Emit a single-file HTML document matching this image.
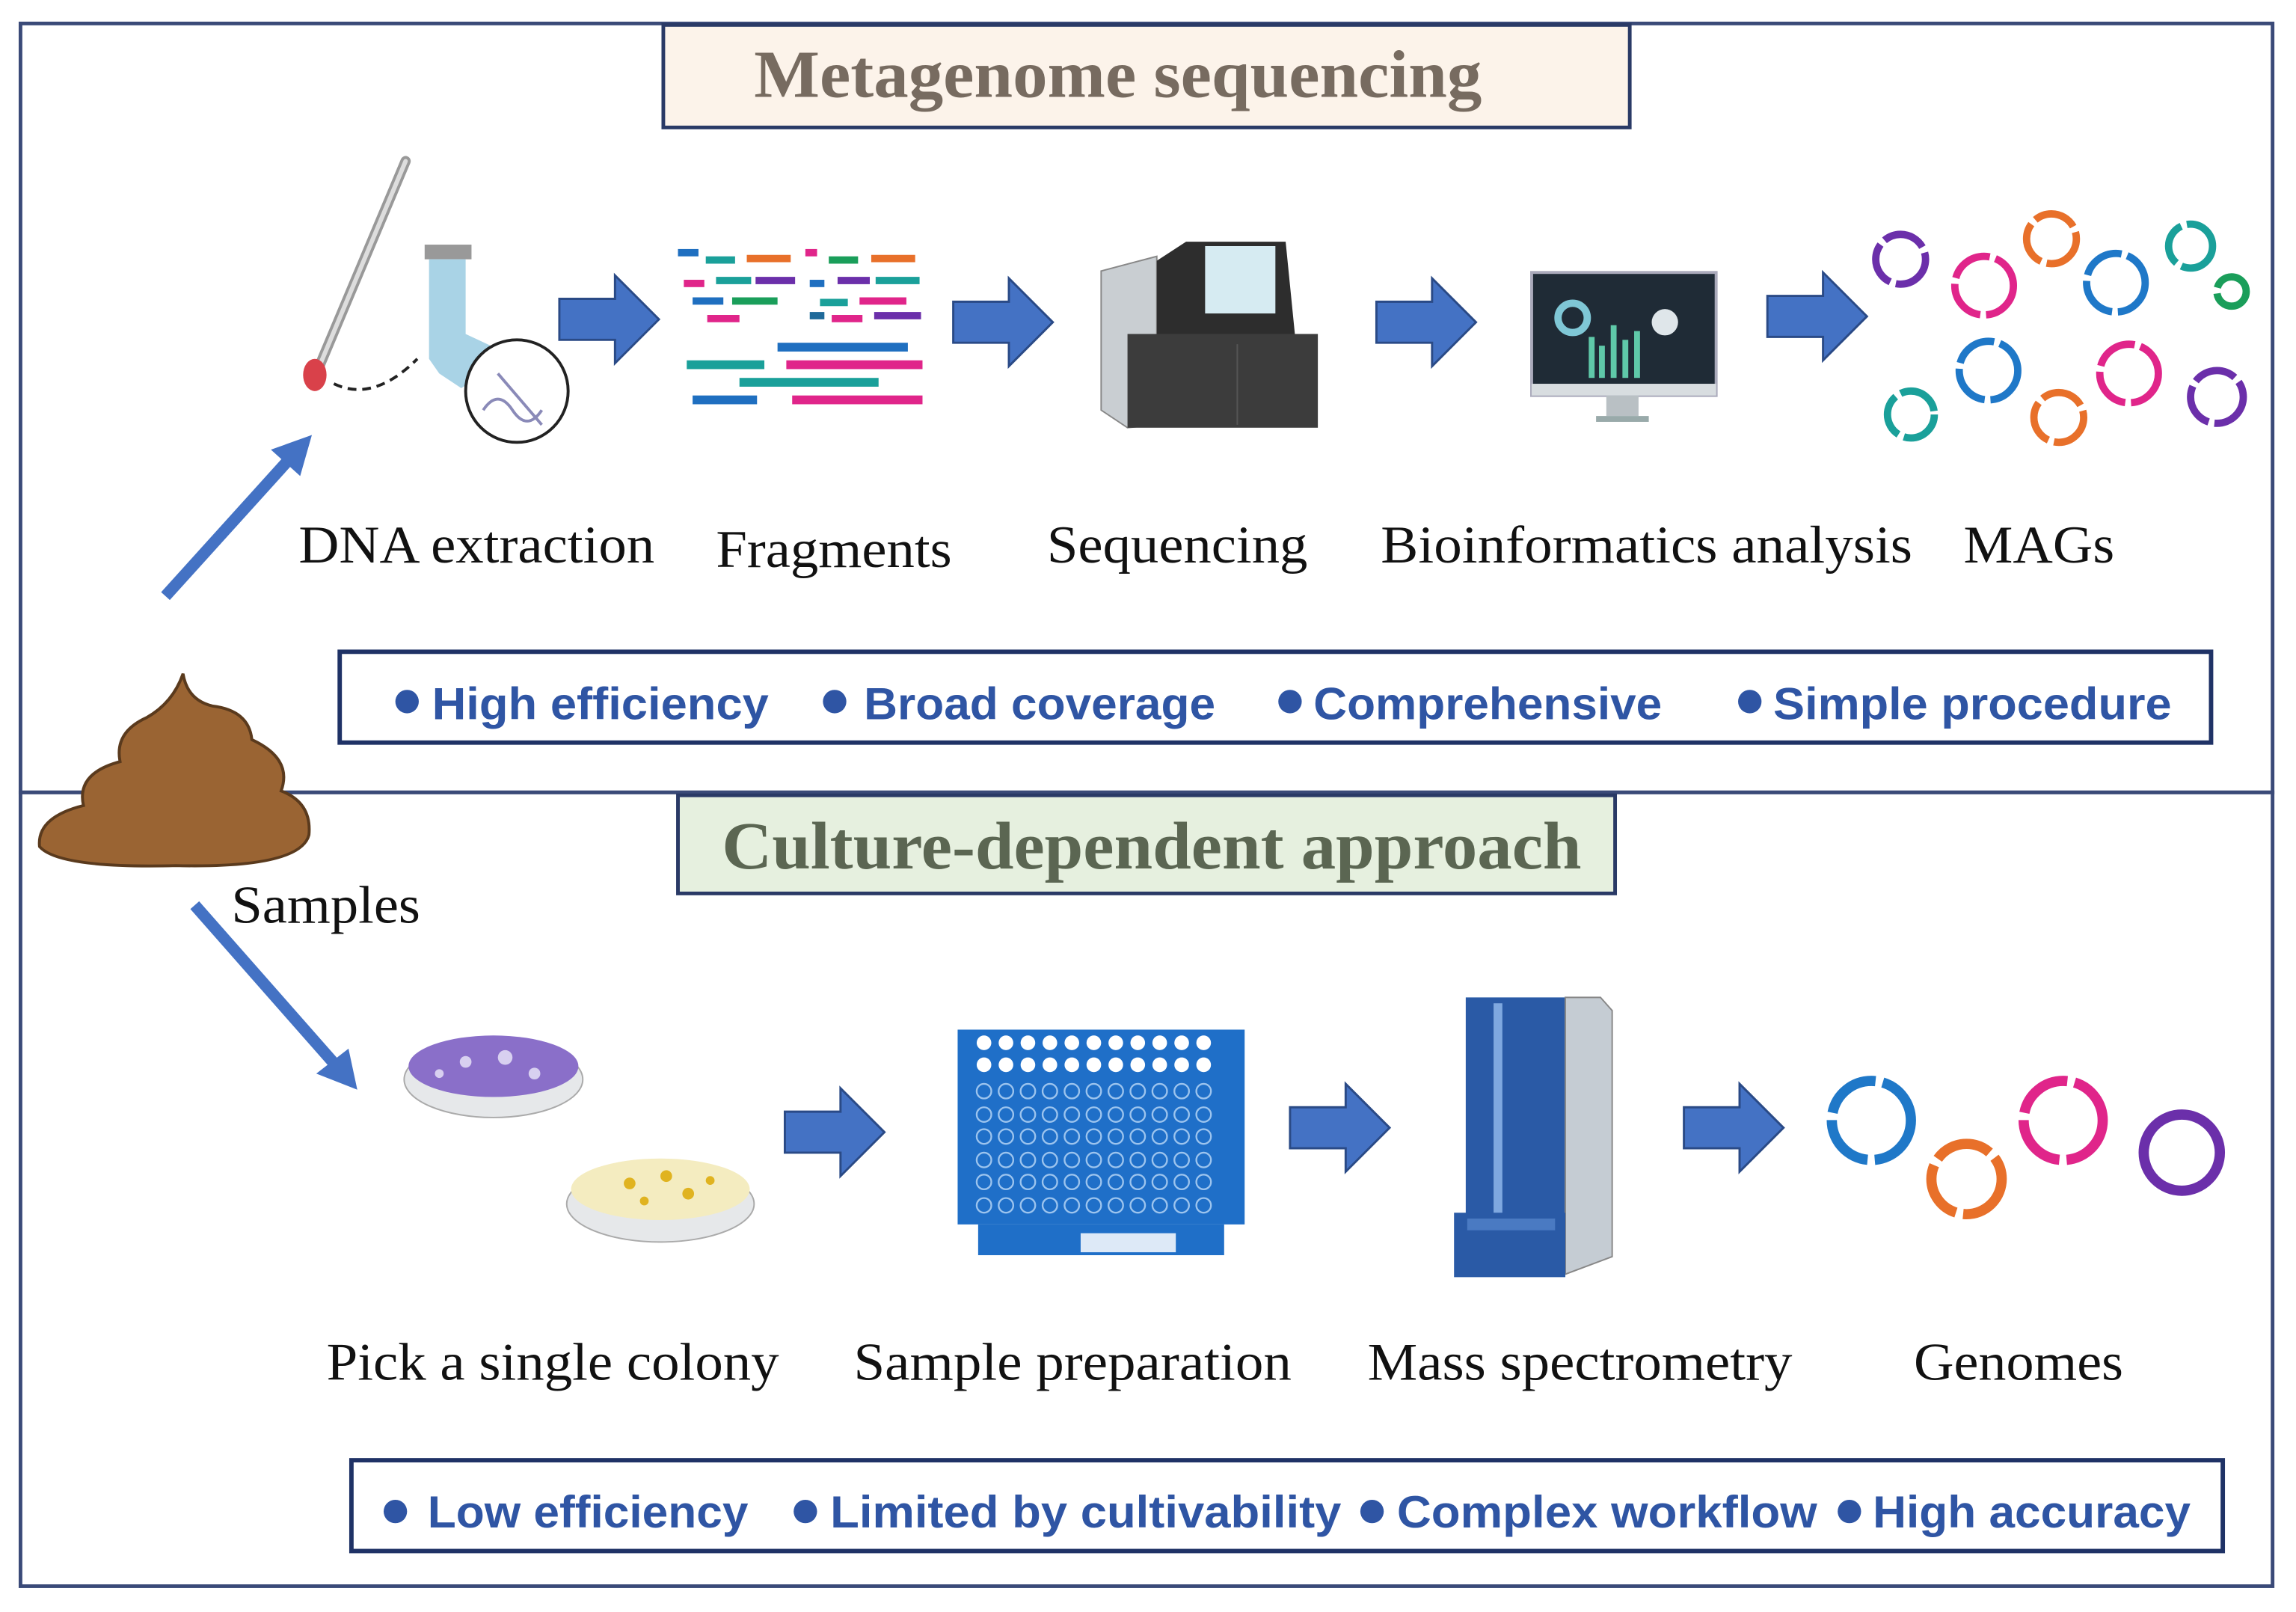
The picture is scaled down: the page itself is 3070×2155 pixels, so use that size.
<!DOCTYPE html>
<html><head><meta charset="utf-8"><style>
html,body{margin:0;padding:0;background:#fff;}
svg{display:block;}
.lab{font-family:"Liberation Serif",serif;font-size:36px;fill:#111;}
.feat{font-family:"Liberation Sans",sans-serif;font-weight:bold;font-size:31px;fill:#2f55a4;}
</style></head><body>
<svg width="3070" height="2155" viewBox="0 0 1568 1100.6" xmlns="http://www.w3.org/2000/svg">
<defs>
<g id="barr"><path d="M0,-14 H38 V-30 L68,0 L38,30 V14 H0 Z" fill="#4472c4" stroke="#2a4a86" stroke-width="1.5"/></g>
</defs>
<rect x="0" y="0" width="1568" height="1101" fill="#fff"/>
<rect x="14" y="16" width="1538" height="525" fill="none" stroke="#3a4a78" stroke-width="2.5"/>
<rect x="14" y="541" width="1538" height="542" fill="none" stroke="#3a4a78" stroke-width="2.5"/>
<rect x="453" y="17" width="660" height="70" fill="#fcf3ea" stroke="#2a3a66" stroke-width="2.5"/>
<text x="515" y="66" textLength="497" lengthAdjust="spacingAndGlyphs" font-family="Liberation Serif,serif" font-weight="bold" font-size="46" fill="#776b60">Metagenome sequencing</text>
<rect x="463" y="543" width="640" height="67" fill="#e6f0df" stroke="#2a3a66" stroke-width="2.5"/>
<text x="493" y="593" textLength="587" lengthAdjust="spacingAndGlyphs" font-family="Liberation Serif,serif" font-weight="bold" font-size="46" fill="#5b6652">Culture-dependent approach</text>

<line x1="277" y1="110" x2="216" y2="255" stroke="#999" stroke-width="7" stroke-linecap="round"/>
<line x1="277" y1="110" x2="216" y2="255" stroke="#ddd" stroke-width="3" stroke-linecap="round"/>
<ellipse cx="215" cy="256" rx="8" ry="11" fill="#d9414a"/>
<path d="M228,262 Q255,275 285,245" fill="none" stroke="#222" stroke-width="2" stroke-dasharray="6,4"/>
<rect x="290" y="167" width="32" height="10" fill="#999"/>
<path d="M293,177 H318 V228 L350,243 L315,265 L300,255 L293,245 Z" fill="#a9d3e6"/>
<circle cx="353" cy="267" r="35" fill="#fff" stroke="#222" stroke-width="2"/>
<path d="M330,280 q10,-15 20,0 q10,15 20,0 M340,255 l30,35" stroke="#8a8ab8" stroke-width="2" fill="none"/>

<g>
<rect x="463" y="170" width="14" height="5" fill="#1f6fc0"/><rect x="482" y="175" width="20" height="5" fill="#1aa09a"/><rect x="510" y="174" width="30" height="5" fill="#e8702a"/><rect x="550" y="170" width="8" height="5" fill="#e0258a"/><rect x="566" y="175" width="20" height="5" fill="#1a9e5a"/><rect x="595" y="174" width="30" height="5" fill="#e8702a"/>
<rect x="467" y="191" width="14" height="5" fill="#e0258a"/><rect x="489" y="189" width="24" height="5" fill="#1aa09a"/><rect x="516" y="189" width="27" height="5" fill="#6b2faa"/><rect x="553" y="191" width="10" height="5" fill="#1f6fc0"/><rect x="572" y="189" width="22" height="5" fill="#6b2faa"/><rect x="598" y="189" width="30" height="5" fill="#1aa09a"/>
<rect x="473" y="203" width="21" height="5" fill="#1f6fc0"/><rect x="500" y="203" width="31" height="5" fill="#1a9e5a"/><rect x="560" y="204" width="19" height="5" fill="#1aa09a"/><rect x="587" y="203" width="32" height="5" fill="#e0258a"/>
<rect x="483" y="215" width="22" height="5" fill="#e0258a"/><rect x="553" y="213" width="10" height="5" fill="#1f6a9a"/><rect x="568" y="215" width="21" height="5" fill="#e0258a"/><rect x="597" y="213" width="32" height="5" fill="#6b2faa"/>
<rect x="531" y="234" width="89" height="6" fill="#1f6fc0"/>
<rect x="469" y="246" width="53" height="6" fill="#1aa09a"/><rect x="537" y="246" width="93" height="6" fill="#e0258a"/>
<rect x="505" y="258" width="95" height="6" fill="#1aa09a"/>
<rect x="473" y="270" width="44" height="6" fill="#1f6fc0"/><rect x="541" y="270" width="89" height="6" fill="#e0258a"/>
</g>

<path d="M752,185 L790,175 L790,290 L770,292 L752,280 Z" fill="#c9ced2" stroke="#888" stroke-width="1"/>
<path d="M790,178 L810,165 H878 L885,235 H790 Z" fill="#2d2d2d"/>
<rect x="823" y="168" width="48" height="46" fill="#d6ebf2"/>
<rect x="770" y="228" width="130" height="64" fill="#3c3c3c"/>
<line x1="845" y1="235" x2="845" y2="290" stroke="#555"/>

<rect x="1046" y="186" width="126" height="84" fill="#1f2b36" stroke="#aab" stroke-width="2"/>
<rect x="1046" y="262" width="126" height="8" fill="#d8dde0"/>
<rect x="1097" y="270" width="22" height="14" fill="#b9c0c4"/>
<rect x="1090" y="284" width="36" height="4" fill="#9aa"/>
<circle cx="1074" cy="217" r="10" fill="none" stroke="#7fc7d6" stroke-width="5"/>
<g fill="#5fc9a9"><rect x="1085" y="230" width="4" height="28"/><rect x="1092" y="236" width="4" height="22"/><rect x="1100" y="222" width="4" height="36"/><rect x="1108" y="232" width="4" height="26"/><rect x="1116" y="226" width="4" height="32"/></g>
<circle cx="1137" cy="220" r="9" fill="#dfe6ea"/>

<use href="#barr" x="382" y="218"/>
<use href="#barr" x="651" y="220"/>
<use href="#barr" x="940" y="220"/>
<use href="#barr" x="1207" y="216"/>

<g fill="none" stroke-width="5" stroke-dasharray="30,4">
<circle cx="1298" cy="177" r="17" stroke="#6b2faa"/>
<circle cx="1355" cy="195" r="20" stroke="#e0258a"/>
<circle cx="1401" cy="163" r="17" stroke="#e8702a"/>
<circle cx="1445" cy="193" r="20" stroke="#1f78c8"/>
<circle cx="1496" cy="168" r="15" stroke="#1aa09a"/>
<circle cx="1524" cy="199" r="10" stroke="#1a9e5a"/>
<circle cx="1305" cy="283" r="16" stroke="#1aa09a"/>
<circle cx="1358" cy="253" r="20" stroke="#1f78c8"/>
<circle cx="1406" cy="285" r="17" stroke="#e8702a"/>
<circle cx="1454" cy="255" r="20" stroke="#e0258a"/>
<circle cx="1514" cy="271" r="18" stroke="#6b2faa"/>
</g>

<text class="lab" x="204" y="384" textLength="243" lengthAdjust="spacingAndGlyphs">DNA extraction</text>
<text class="lab" x="489" y="387" textLength="161" lengthAdjust="spacingAndGlyphs">Fragments</text>
<text class="lab" x="715" y="384" textLength="178" lengthAdjust="spacingAndGlyphs">Sequencing</text>
<text class="lab" x="943" y="384" textLength="363" lengthAdjust="spacingAndGlyphs">Bioinformatics analysis</text>
<text class="lab" x="1341" y="384" textLength="103" lengthAdjust="spacingAndGlyphs">MAGs</text>

<rect x="232" y="445" width="1278" height="62" fill="#fff" stroke="#1f3266" stroke-width="3"/>
<g fill="#2f55a4"><circle cx="278" cy="479" r="8"/><circle cx="570" cy="479" r="8"/><circle cx="881" cy="479" r="8"/><circle cx="1195" cy="479" r="8"/></g>
<text class="feat" x="295" y="491" textLength="230" lengthAdjust="spacingAndGlyphs">High efficiency</text>
<text class="feat" x="590" y="491" textLength="240" lengthAdjust="spacingAndGlyphs">Broad coverage</text>
<text class="feat" x="897" y="491" textLength="238" lengthAdjust="spacingAndGlyphs">Comprehensive</text>
<text class="feat" x="1211" y="491" textLength="272" lengthAdjust="spacingAndGlyphs">Simple procedure</text>

<line x1="113" y1="407" x2="198" y2="313" stroke="#4472c4" stroke-width="8"/>
<polygon points="213,297 185,307 205,325" fill="#4472c4"/>
<line x1="133" y1="618" x2="229" y2="727" stroke="#4472c4" stroke-width="8"/>
<polygon points="244,744 216,733 238,716" fill="#4472c4"/>

<path d="M125,460 Q118,480 100,490 Q78,500 82,520 Q52,528 57,550 Q25,558 27,578 Q40,593 120,591 Q205,593 211,570 Q213,548 192,540 Q200,518 172,505 Q170,485 145,482 Q128,478 125,460 Z" fill="#9a6433" stroke="#5a3a1d" stroke-width="2"/>
<text class="lab" x="158" y="630" textLength="129" lengthAdjust="spacingAndGlyphs">Samples</text>

<ellipse cx="337" cy="737" rx="61" ry="26" fill="#e6e8ea" stroke="#aaa"/>
<ellipse cx="337" cy="728" rx="58" ry="21" fill="#8a6fc9"/>
<g fill="#d8d0f0"><circle cx="318" cy="725" r="4"/><circle cx="345" cy="722" r="5"/><circle cx="365" cy="733" r="4"/><circle cx="300" cy="733" r="3"/></g>
<ellipse cx="451" cy="822" rx="64" ry="26" fill="#e6e8ea" stroke="#aaa"/>
<ellipse cx="451" cy="812" rx="61" ry="21" fill="#f4ecc0"/>
<g fill="#e0b320"><circle cx="430" cy="808" r="4"/><circle cx="455" cy="803" r="4"/><circle cx="470" cy="815" r="4"/><circle cx="440" cy="820" r="3"/><circle cx="485" cy="806" r="3"/></g>

<rect x="654" y="703" width="196" height="133" fill="#1f6fc8"/>
<rect x="668" y="836" width="168" height="21" fill="#1f6fc8"/>
<rect x="738" y="842" width="65" height="13" fill="#fff" opacity="0.85"/>
<g fill="#fff">
<circle cx="672" cy="712" r="5"/><circle cx="687" cy="712" r="5"/><circle cx="702" cy="712" r="5"/><circle cx="717" cy="712" r="5"/><circle cx="732" cy="712" r="5"/><circle cx="747" cy="712" r="5"/><circle cx="762" cy="712" r="5"/><circle cx="777" cy="712" r="5"/><circle cx="792" cy="712" r="5"/><circle cx="807" cy="712" r="5"/><circle cx="822" cy="712" r="5"/>
<circle cx="672" cy="727" r="5"/><circle cx="687" cy="727" r="5"/><circle cx="702" cy="727" r="5"/><circle cx="717" cy="727" r="5"/><circle cx="732" cy="727" r="5"/><circle cx="747" cy="727" r="5"/><circle cx="762" cy="727" r="5"/><circle cx="777" cy="727" r="5"/><circle cx="792" cy="727" r="5"/><circle cx="807" cy="727" r="5"/><circle cx="822" cy="727" r="5"/>
</g>
<g fill="none" stroke="#9cc4ee" stroke-width="1.2">
<path id="row" d="M667,745 a5,5 0 1,0 10,0 a5,5 0 1,0 -10,0 m15,0 a5,5 0 1,0 10,0 a5,5 0 1,0 -10,0 m15,0 a5,5 0 1,0 10,0 a5,5 0 1,0 -10,0 m15,0 a5,5 0 1,0 10,0 a5,5 0 1,0 -10,0 m15,0 a5,5 0 1,0 10,0 a5,5 0 1,0 -10,0 m15,0 a5,5 0 1,0 10,0 a5,5 0 1,0 -10,0 m15,0 a5,5 0 1,0 10,0 a5,5 0 1,0 -10,0 m15,0 a5,5 0 1,0 10,0 a5,5 0 1,0 -10,0 m15,0 a5,5 0 1,0 10,0 a5,5 0 1,0 -10,0 m15,0 a5,5 0 1,0 10,0 a5,5 0 1,0 -10,0 m15,0 a5,5 0 1,0 10,0 a5,5 0 1,0 -10,0"/>
<use href="#row" y="16"/><use href="#row" y="31"/><use href="#row" y="47"/><use href="#row" y="62"/><use href="#row" y="78"/>
</g>

<rect x="1001" y="681" width="68" height="160" fill="#2a5aa6"/>
<rect x="1020" y="685" width="6" height="150" fill="#7fa8e0"/>
<path d="M1069,681 H1093 L1101,690 V858 L1069,870 Z" fill="#c5ccd3" stroke="#888"/>
<rect x="993" y="828" width="76" height="44" fill="#2a5aa6"/>
<rect x="1002" y="832" width="60" height="8" fill="#4a7ac2"/>

<use href="#barr" x="536" y="773"/>
<use href="#barr" x="881" y="770"/>
<use href="#barr" x="1150" y="770"/>

<g fill="none" stroke-width="7" stroke-dasharray="40,5">
<circle cx="1278" cy="765" r="27" stroke="#1f78c8"/>
<circle cx="1343" cy="805" r="24" stroke="#e8702a"/>
<circle cx="1409" cy="765" r="27" stroke="#e0258a"/>
<circle cx="1490" cy="787" r="26" stroke="#6b2faa" stroke-dasharray="none"/>
</g>

<text class="lab" x="223" y="942" textLength="309" lengthAdjust="spacingAndGlyphs">Pick a single colony</text>
<text class="lab" x="583" y="942" textLength="299" lengthAdjust="spacingAndGlyphs">Sample preparation</text>
<text class="lab" x="934" y="942" textLength="290" lengthAdjust="spacingAndGlyphs">Mass spectrometry</text>
<text class="lab" x="1307" y="942" textLength="143" lengthAdjust="spacingAndGlyphs">Genomes</text>

<rect x="240" y="997" width="1278" height="62" fill="#fff" stroke="#1f3266" stroke-width="3"/>
<g fill="#2f55a4"><circle cx="270" cy="1032" r="8"/><circle cx="550" cy="1032" r="8"/><circle cx="937" cy="1032" r="8"/><circle cx="1263" cy="1032" r="8"/></g>
<text class="feat" x="292" y="1043" textLength="219" lengthAdjust="spacingAndGlyphs">Low efficiency</text>
<text class="feat" x="567" y="1043" textLength="349" lengthAdjust="spacingAndGlyphs">Limited by cultivability</text>
<text class="feat" x="954" y="1043" textLength="287" lengthAdjust="spacingAndGlyphs">Complex workflow</text>
<text class="feat" x="1279" y="1043" textLength="217" lengthAdjust="spacingAndGlyphs">High accuracy</text>
</svg>
</body></html>
